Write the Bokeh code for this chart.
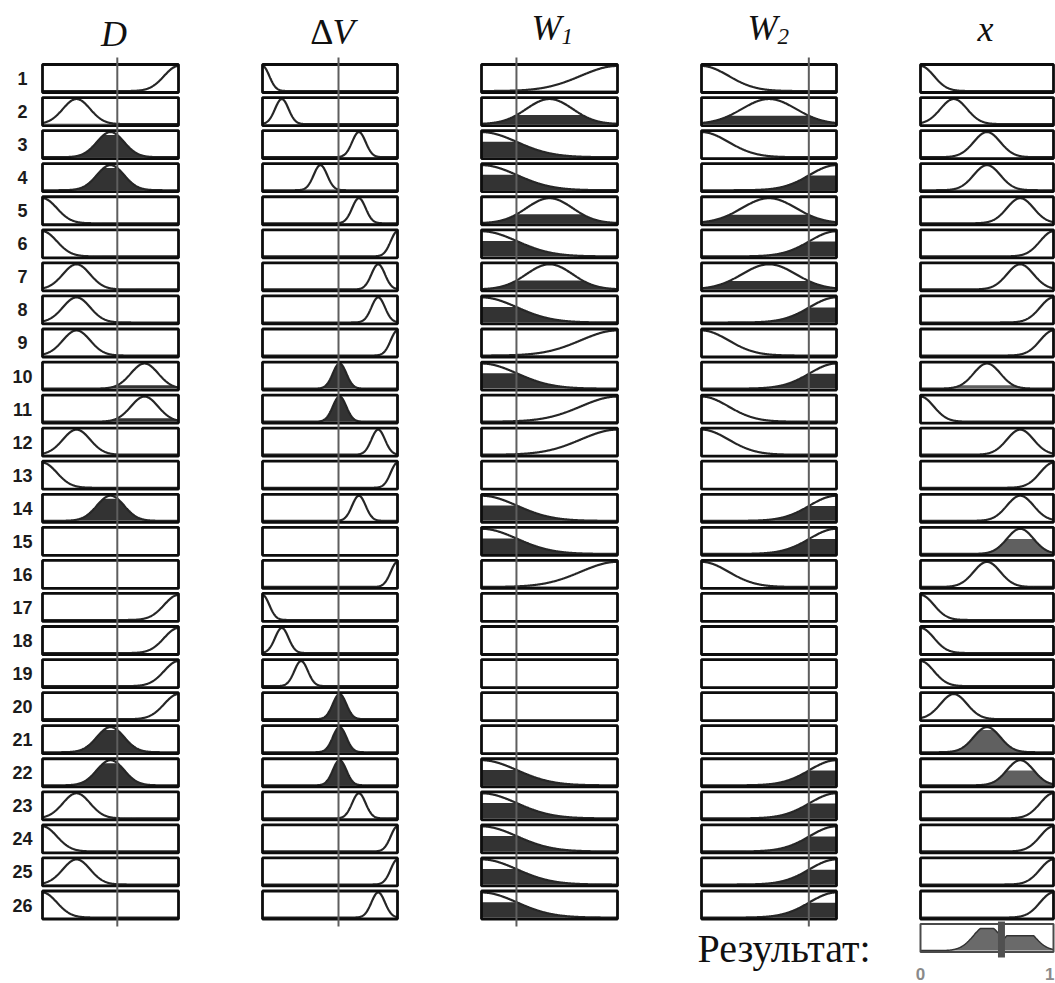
import numpy as np
from bokeh.plotting import figure
from bokeh.models import Range1d
from bokeh.layouts import row
from bokeh.embed import file_html
from bokeh.resources import INLINE
from bokeh.core.properties import value

# ---------------- data ----------------
rule_labels = [str(i) for i in range(1, 27)]

# membership functions (gaussian centre / width) of each variable
D_centers = [0.0, 0.25, 0.5, 0.75, 1.0]
D_sigmas = [0.105, 0.1, 0.1, 0.1, 0.105]
DV_centers = [0.0, 0.143, 0.286, 0.429, 0.571, 0.714, 0.857, 1.0]
DV_sigmas = [0.05, 0.05, 0.05, 0.05, 0.05, 0.05, 0.05, 0.05]
W1_centers = [0.0, 0.5, 1.0]
W1_sigmas = [0.26, 0.17, 0.27]
W2_centers = [0.0, 0.5, 1.0]
W2_sigmas = [0.2, 0.2, 0.2]
X_centers = [0.0, 0.25, 0.5, 0.75, 1.0]
X_sigmas = [0.1, 0.1, 0.1, 0.1, 0.1]

# current input values (vertical lines)
D_input = 0.55
DV_input = 0.563
W1_input = 0.257
W2_input = 0.795

# rule table: index of the membership function used, -1 = not used
rule_D = [4, 1, 2, 2, 0, 0, 1, 1, 1, 3, 3, 1, 0, 2, -1, -1, 4, 4, 4, 4, 2, 2, 1, 0, 1, 0]
rule_DV = [0, 1, 5, 3, 5, 7, 6, 6, 7, 4, 4, 6, 7, 5, -1, 7, 0, 1, 2, 4, 4, 4, 5, 7, 7, 6]
rule_W1 = [2, 1, 0, 0, 1, 0, 1, 0, 2, 0, 2, 2, -1, 0, 0, 2, -1, -1, -1, -1, -1, 0, 0, 0, 0, 0]
rule_W2 = [0, 1, 0, 2, 1, 2, 1, 2, 0, 2, 0, 0, -1, 2, 2, 0, -1, -1, -1, -1, -1, 2, 2, 2, 2, 2]
rule_X = [0, 1, 2, 2, 3, 4, 3, 4, 4, 2, 0, 3, 4, 3, 3, 2, 0, 0, 0, 1, 2, 3, 4, 4, 4, 4]

result_label = "Результат:"
result_ticks = ["0", "1"]

# ---------------- layout constants ----------------
FIG_H = 983
ROW1_Y = 78.0
PITCH = 33.06
fig_pages = [(0, 220), (220, 220), (440, 219), (659, 219), (878, 177)]
box_px = [(42, 178), (262, 397), (481, 617), (701, 836), (920, 1053)]
HALF_BOX = 14.0 / PITCH
AMP = 0.38

y_end = 1 - ROW1_Y / PITCH
y_start = y_end + FIG_H / PITCH


def ry(py):
    return 1 + (py - ROW1_Y) / PITCH


def gauss(x, c, s):
    return np.exp(-((x - c) ** 2) / (2 * s * s))


xs_grid = np.linspace(0, 1, 301)

inputs = [
    (D_centers, D_sigmas, D_input, rule_D),
    (DV_centers, DV_sigmas, DV_input, rule_DV),
    (W1_centers, W1_sigmas, W1_input, rule_W1),
    (W2_centers, W2_sigmas, W2_input, rule_W2),
]

# firing strength of each rule (min of antecedent memberships)
firing = []
for k in range(26):
    lv = []
    for (cs, ss, xin, rl) in inputs:
        if rl[k] >= 0:
            lv.append(gauss(xin, cs[rl[k]], ss[rl[k]]))
    firing.append(min(lv) if lv else 0.0)


def make_fig(i):
    px0, w = fig_pages[i]
    L, R = box_px[i]
    s = R - L
    xs0 = -(L - px0) / s
    xe0 = xs0 + w / s
    p = figure(width=w, height=FIG_H, x_range=Range1d(xs0, xe0),
               y_range=Range1d(y_start, y_end), output_backend="svg",
               toolbar_location=None, x_axis_location=None, y_axis_location=None,
               min_border=0, min_border_left=0, min_border_right=0,
               min_border_top=0, min_border_bottom=0,
               outline_line_color=None, background_fill_color="white",
               border_fill_color="white")
    p.grid.visible = False
    p.title.visible = False
    return p


def pv(i, px):
    L, R = box_px[i]
    return (px - L) / (R - L)


def draw_cells(p, mfs, levels, fill_color):
    fx, fy, cx, cy = [], [], [], []
    for k, (mf, lev) in enumerate(zip(mfs, levels)):
        r = k + 1
        if mf is None:
            continue
        base = r + AMP
        cx.append(xs_grid)
        cy.append(base - 2 * AMP * mf)
        clip = np.minimum(mf, lev)
        fx.append(np.concatenate([xs_grid, xs_grid[::-1]]))
        fy.append(np.concatenate([base - 2 * AMP * clip, np.full_like(xs_grid, base)]))
    if fx:
        p.patches(fx, fy, fill_color=fill_color, line_color=None)
    if cx:
        p.multi_line(cx, cy, line_color="#262626", line_width=2.2)
    rows = np.arange(1, 27)
    p.quad(left=0, right=1, top=rows - HALF_BOX, bottom=rows + HALF_BOX,
           fill_color=None, line_color="#0d0d0d", line_width=2.8)


def label(p, x, y, txt, size, style="normal", align="center", font="Liberation Serif",
          color="#111111"):
    p.text(x=x, y=y, text=txt, text_font=value(font), text_font_style=style,
           text_font_size=size, text_align=align, text_baseline="middle",
           text_color=color)


figs = []
for i, (cs, ss, xin, rl) in enumerate(inputs):
    p = make_fig(i)
    mu = [gauss(xin, cs[j], ss[j]) if j >= 0 else 0 for j in rl]
    mfs = [gauss(xs_grid, cs[j], ss[j]) if j >= 0 else None for j in rl]
    draw_cells(p, mfs, mu, "#333333")
    p.segment(x0=[xin], x1=[xin], y0=[ry(57)], y1=[ry(926)],
              line_color="#5e5e5e", line_width=2)
    figs.append(p)

# titles
label(figs[0], [pv(0, 113.5)], [ry(33.5)], ["D"], "36px", "italic")
label(figs[1], [pv(1, 333)], [ry(31)], ["Δ"], "36px", "normal", "right")
label(figs[1], [pv(1, 332)], [ry(31)], ["V"], "36px", "italic", "left")
for i, sub, xr in [(2, "1", 561), (3, "2", 777)]:
    label(figs[i], [pv(i, xr)], [ry(27)], ["W"], "36px", "italic", "right")
    label(figs[i], [pv(i, xr)], [ry(36)], [sub], "23px", "italic", "left")

# row labels
label(figs[0], [pv(0, 22)] * 26, list(range(1, 27)), rule_labels, "18px", "bold",
      "center", "Liberation Sans", "#1c1c1c")

# "Результат:"
label(figs[3], [pv(3, 697)], [ry(947.5)], [result_label], "40px", "normal", "left")

# output column
px = make_fig(4)
omfs = [gauss(xs_grid, X_centers[j], X_sigmas[j]) for j in rule_X]
draw_cells(px, omfs, firing, "#606060")
label(px, [pv(4, 985)], [ry(28)], ["x"], "36px", "italic")

# aggregated result
agg = np.zeros_like(xs_grid)
for mf, lev in zip(omfs, firing):
    agg = np.maximum(agg, np.minimum(mf, lev))
centroid = float(np.sum(xs_grid * agg) / np.sum(agg))
rr = 27
base = rr + AMP
px.patches([np.concatenate([xs_grid, xs_grid[::-1]])],
           [np.concatenate([base - 2 * AMP * agg, np.full_like(xs_grid, base)])],
           fill_color="#6a6a6a", line_color=None)
px.line(xs_grid, base - 2 * AMP * agg, line_color="#333333", line_width=1.5)
px.quad(left=[0], right=[1], top=[rr - HALF_BOX], bottom=[rr + HALF_BOX],
        fill_color=None, line_color="#4a4a4a", line_width=2)
px.segment(x0=[centroid], x1=[centroid], y0=[ry(921)], y1=[ry(957)],
           line_color="#505050", line_width=7)
label(px, [0], [ry(973)], result_ticks[:1], "17px", "bold", "center",
      "Liberation Sans", "#8a8a8a")
label(px, [pv(4, 1054)], [ry(973)], result_ticks[1:], "17px", "bold", "right",
      "Liberation Sans", "#8a8a8a")
figs.append(px)

layout = row(figs, spacing=0)
open("out.html", "w").write(file_html(layout, INLINE))
